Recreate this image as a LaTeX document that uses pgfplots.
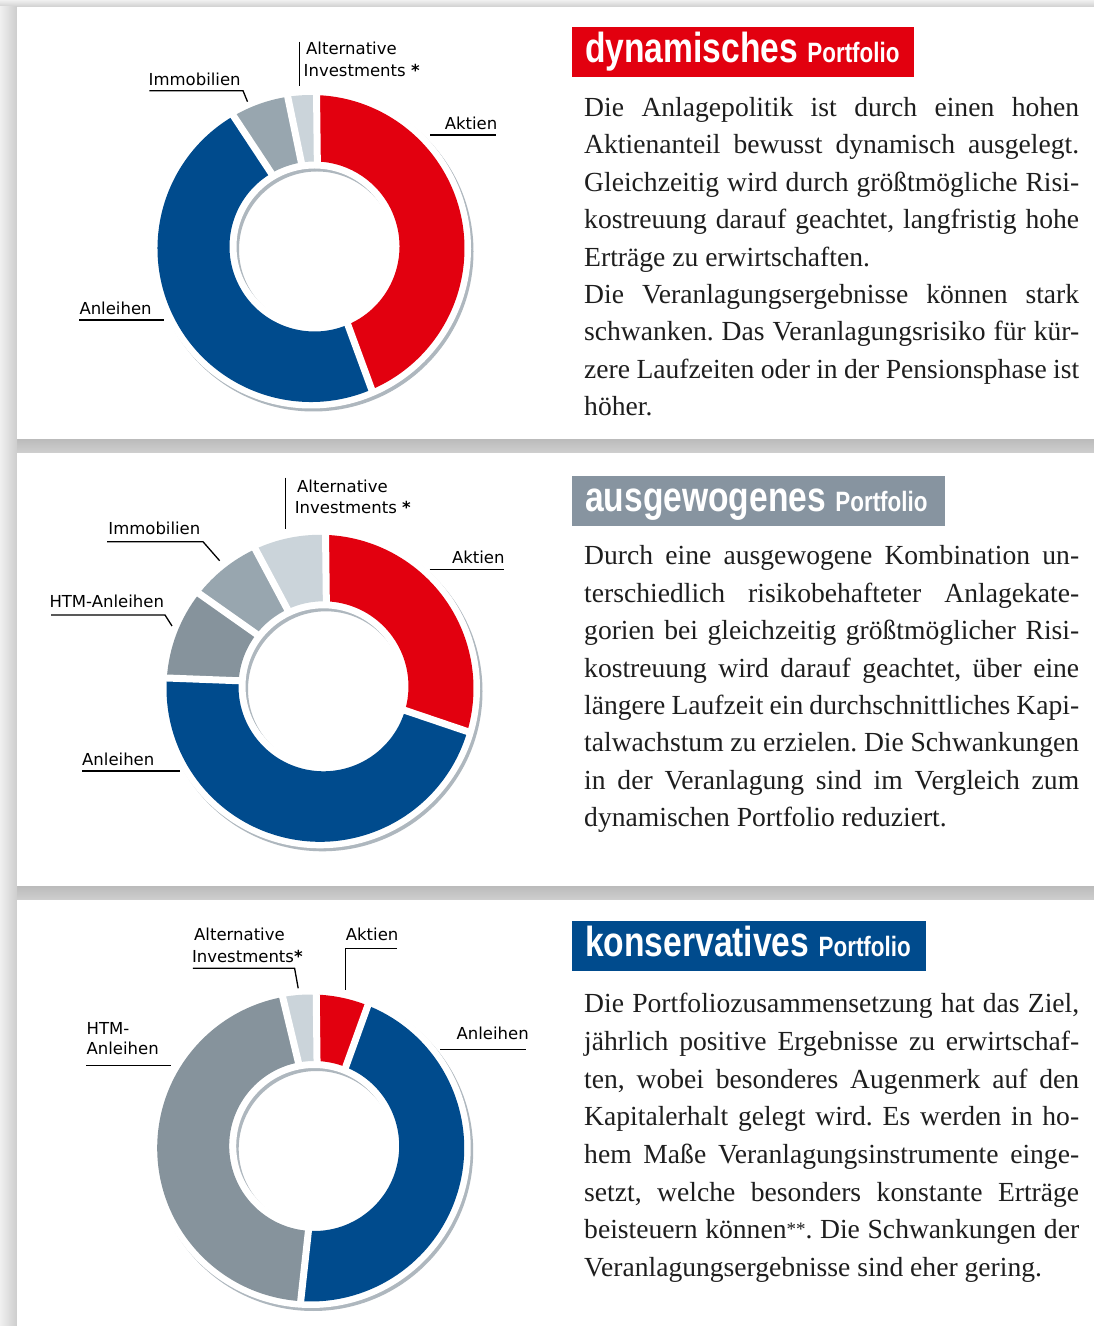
\documentclass[border=0pt]{standalone}
\usepackage{graphicx}
\usepackage{pgfplots}
\pgfplotsset{compat=1.18}
\usepackage{pgfplotstable}
\usepackage{fontspec}
\setmainfont{Liberation Serif}
\newfontfamily\labelfont{DejaVu Sans}
\newfontfamily\titlefont{Liberation Sans}
\frenchspacing

\definecolor{cred}{HTML}{E2000F}
\definecolor{cblue}{HTML}{004B8D}
\definecolor{chtm}{HTML}{86939C}
\definecolor{cimmo}{HTML}{98A6AF}
\definecolor{calt}{HTML}{CBD4DA}
\definecolor{ctitlegray}{HTML}{8794A0}
\definecolor{cshadow}{HTML}{AEB7BE}
\definecolor{ctext}{HTML}{1E1E1E}
\definecolor{cbg}{HTML}{E4E4E4}
\definecolor{cleftA}{HTML}{F0F0F0}
\definecolor{cleftB}{HTML}{CDCDCD}
\definecolor{cbandA}{HTML}{BBBBBB}
\definecolor{cbandB}{HTML}{CFCFCF}

% portfolio shares in percent, clockwise from the top
\pgfplotstableread{
label value color
Aktien 43 cred
Anleihen 48 cblue
Immobilien 6 cimmo
Alternative 3 calt
}\dyn
\pgfplotstableread{
label value color
Aktien 29 cred
Anleihen 46.5 cblue
HTM 9.5 chtm
Immobilien 7.5 cimmo
Alternative 7.5 calt
}\ausg
\pgfplotstableread{
label value color
Aktien 5.5 cred
Anleihen 45 cblue
HTM 46 chtm
Alternative 3.5 calt
}\kons

\def\Ro{153.5}\def\Ri{85}\def\hx{3.5}\def\hy{2}\def\startoff{2}
\newcommand\donut[1]{%
  \fill[cshadow, even odd rule] (axis cs:2.5,-3) circle[radius=160pt] (axis cs:6,-1) circle[radius=78pt];
  \fill[white, even odd rule] (axis cs:0,0) circle[radius=160pt] (axis cs:\hx,\hy) circle[radius=78pt];
  \pgfplotstablegetrowsof{#1}%
  \pgfmathtruncatemacro\nlast{\pgfplotsretval-1}%
  \def\cum{0}%
  \pgfplotsforeachungrouped \kk in {0,...,\nlast}{%
    \pgfplotstablegetelem{\kk}{value}\of{#1}\let\val\pgfplotsretval
    \pgfplotstablegetelem{\kk}{color}\of{#1}\let\col\pgfplotsretval
    \pgfmathsetmacro\angS{90-\startoff-3.6*\cum}%
    \pgfmathsetmacro\angE{90-\startoff-3.6*(\cum+\val)}%
    \pgfmathsetmacro\ix{\hx+\Ri*cos(\angE)}%
    \pgfmathsetmacro\iy{\hy+\Ri*sin(\angE)}%
    \edef\seg{\noexpand\fill[\col] (axis cs:0,0) ++(\angS:\Ro pt) arc[start angle=\angS, end angle=\angE, radius=\Ro pt] -- (axis cs:\ix,\iy) arc[start angle=\angE, end angle=\angS, radius=\Ri pt] -- cycle;}%
    \seg
    \pgfmathsetmacro\cum{\cum+\val}%
  }%
  \def\cum{0}%
  \pgfplotsforeachungrouped \kk in {0,...,\nlast}{%
    \pgfplotstablegetelem{\kk}{value}\of{#1}\let\val\pgfplotsretval
    \pgfmathsetmacro\ga{90-\startoff-3.6*\cum}%
    \pgfmathsetmacro\gx{\hx+(\Ri-3)*cos(\ga)}%
    \pgfmathsetmacro\gy{\hy+(\Ri-3)*sin(\ga)}%
    \pgfmathsetmacro\gX{(\Ro+4)*cos(\ga)}%
    \pgfmathsetmacro\gY{(\Ro+4)*sin(\ga)}%
    \edef\gap{\noexpand\draw[white, line width=7pt] (axis cs:\gx,\gy) -- (axis cs:\gX,\gY);}%
    \gap
    \pgfmathsetmacro\cum{\cum+\val}%
  }%
}

\pgfplotsset{donutaxis/.style={anchor=center, x=1pt, y=1pt, xmin=-170, xmax=170, ymin=-170, ymax=170, hide axis, clip=false, scale only axis}}

\newcommand\bl[2]{\node[anchor=base west,inner sep=0pt,text=ctext,font=\fontsize{27.6}{32}\selectfont] at (584,#1) {\makebox[495pt][s]{#2}};}
\newcommand\bn[2]{\node[anchor=base west,inner sep=0pt,text=ctext,font=\fontsize{27.6}{32}\selectfont] at (584,#1) {#2};}
\newcommand\lab[3]{\node[anchor=base west,inner sep=0pt,text=black,font=\labelfont\fontsize{16.5}{20}\selectfont] at (#1,#2) {#3};}
\newcommand\ttl[3]{\node[anchor=base west,inner sep=0pt,text=white] at (585,#1) {\titlefont\bfseries\scalebox{0.8}[1]{\fontsize{42}{42}\selectfont #2 \fontsize{28}{28}\selectfont #3}};}
\newcommand\bast{\textbf{*}}
\newcommand\sast{{\fontsize{19}{19}\selectfont\raisebox{3pt}{**}}}

\begin{document}
\begin{tikzpicture}[x=1pt,y=1pt]
% background, shadows and panels
\fill[cbg] (0,0) rectangle (1094,1326);
\shade[top color=cleftA, bottom color=cbandB] (0,1319) rectangle (1094,1326);
\shade[top color=cbandA, bottom color=cbandB] (0,873) rectangle (1094,887);
\shade[top color=cbandA, bottom color=cbandB] (0,426) rectangle (1094,440);
\shade[left color=cleftA, right color=cleftB] (0,0) rectangle (17,1319);
\fill[white] (17,887) rectangle (1094,1319);
\fill[white] (17,440) rectangle (1094,873);
\fill[white] (17,0) rectangle (1094,426);

% donuts
\begin{axis}[donutaxis, at={(311pt,1077.5pt)}]
\donut{\dyn}
\end{axis}
\begin{axis}[donutaxis, at={(320pt,637.7pt)}]
\donut{\ausg}
\end{axis}
\begin{axis}[donutaxis, at={(310.7pt,178pt)}]
\donut{\kons}
\end{axis}

% labels panel 1
\lab{306}{1271}{Alternative}
\lab{303.5}{1249.3}{Investments \bast}
\draw[line width=1.3pt] (299.3,1284.3) -- (299.3,1240);
\lab{148.5}{1240}{Immobilien}
\draw[line width=1.3pt] (149.3,1235.3) -- (243,1235.3) -- (247.5,1224.3);
\lab{444.6}{1196.7}{Aktien}
\draw[line width=1.3pt] (430,1191) -- (496.4,1191);
\lab{79.3}{1011}{Anleihen}
\draw[line width=1.3pt] (79.3,1006) -- (163.6,1006);

% labels panel 2
\lab{297}{833.7}{Alternative}
\lab{294.6}{812}{Investments \bast}
\draw[line width=1.3pt] (285.7,848.3) -- (285.7,796.7);
\lab{108.2}{791}{Immobilien}
\draw[line width=1.3pt] (107,784.3) -- (203,784.3) -- (219.6,765.3);
\lab{49.3}{718.3}{HTM-Anleihen}
\draw[line width=1.3pt] (51,711) -- (165,711) -- (172,700);
\lab{451.8}{762}{Aktien}
\draw[line width=1.3pt] (429.6,756.7) -- (503.6,756.7);
\lab{82}{560}{Anleihen}
\draw[line width=1.3pt] (82,555) -- (180.4,555);

% labels panel 3
\lab{194}{385}{Alternative}
\lab{191.8}{363.3}{Investments\bast}
\draw[line width=1.3pt] (192.9,357.7) -- (294.6,357.7) -- (298.2,337.7);
\lab{345.7}{385}{Aktien}
\draw[line width=1.3pt] (397,377.7) -- (345.7,377.7) -- (345.7,336);
\lab{86.4}{291}{HTM-}
\lab{86.4}{271}{Anleihen}
\draw[line width=1.3pt] (86.4,260.3) -- (171.4,260.3);
\lab{456.4}{286}{Anleihen}
\draw[line width=1.3pt] (440,276.7) -- (526,276.7);

% titles
\fill[cred] (572,1249) rectangle (914,1299);
\ttl{1263}{dynamisches}{Portfolio}
\fill[ctitlegray] (572,800) rectangle (945,850);
\ttl{814}{ausgewogenes}{Portfolio}
\fill[cblue] (572,355) rectangle (926,405);
\ttl{369}{konservatives}{Portfolio}

% body text panel 1
\bl{1209.5}{Die Anlagepolitik ist durch einen hohen}
\bl{1172.1}{Aktienanteil bewusst dynamisch ausgelegt.}
\bl{1134.7}{Gleichzeitig wird durch größtmögliche Risi-}
\bl{1097.3}{kostreuung darauf geachtet, langfristig hohe}
\bn{1059.9}{Erträge zu erwirtschaften.}
\bl{1022.5}{Die Veranlagungsergebnisse können stark}
\bl{985.1}{schwanken. Das Veranlagungsrisiko für kür-}
\bl{947.7}{zere Laufzeiten oder in der Pensionsphase ist}
\bn{910.3}{höher.}

% body text panel 2
\bl{761}{Durch eine ausgewogene Kombination un-}
\bl{723.6}{terschiedlich risikobehafteter Anlagekate-}
\bl{686.2}{gorien bei gleichzeitig größtmöglicher Risi-}
\bl{648.8}{kostreuung wird darauf geachtet, über eine}
\bl{611.4}{längere Laufzeit ein durchschnittliches Kapi-}
\bl{574}{talwachstum zu erzielen. Die Schwankungen}
\bl{536.6}{in der Veranlagung sind im Vergleich zum}
\bn{499.2}{dynamischen Portfolio reduziert.}

% body text panel 3
\bl{313.3}{Die Portfoliozusammensetzung hat das Ziel,}
\bl{275.6}{jährlich positive Ergebnisse zu erwirtschaf-}
\bl{237.9}{ten, wobei besonderes Augenmerk auf den}
\bl{200.2}{Kapitalerhalt gelegt wird. Es werden in ho-}
\bl{162.5}{hem Maße Veranlagungsinstrumente einge-}
\bl{124.8}{setzt, welche besonders konstante Erträge}
\bl{87.1}{beisteuern können\sast. Die Schwankungen der}
\bn{49.4}{Veranlagungsergebnisse sind eher gering.}

\pgfresetboundingbox
\useasboundingbox (0,0) rectangle (1094,1326);
\end{tikzpicture}
\end{document}
